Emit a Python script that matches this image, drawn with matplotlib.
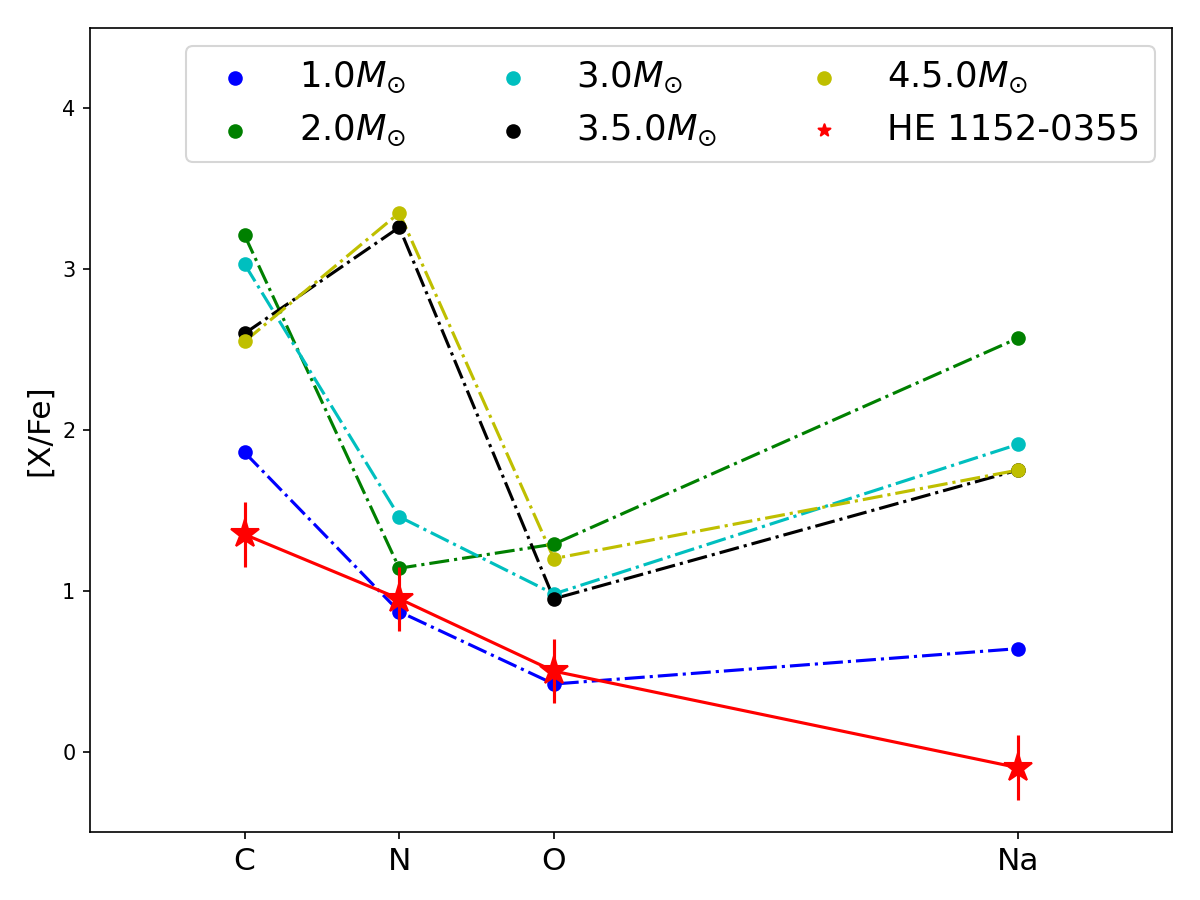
import numpy as np
import matplotlib.pyplot as plt

# atomic numbers used as x positions
elements = ['C', 'N', 'O', 'Na']
z = [6, 7, 8, 11]

m10 = [1.86, 0.87, 0.42, 0.64]
m20 = [3.21, 1.14, 1.29, 2.57]
m30 = [3.03, 1.46, 0.98, 1.91]
m35 = [2.60, 3.26, 0.95, 1.75]
m45 = [2.55, 3.35, 1.20, 1.75]

star = [1.35, 0.95, 0.50, -0.10]
star_err = [0.2, 0.2, 0.2, 0.2]

fig, ax = plt.subplots(figsize=(8, 6), dpi=150)
fig.subplots_adjust(left=0.075, right=0.977, top=0.969, bottom=0.0756)

models = [(m10, 'b', r'1.0$M_{\odot}$'),
          (m20, 'g', r'2.0$M_{\odot}$'),
          (m30, 'c', r'3.0$M_{\odot}$'),
          (m35, 'k', r'3.5.0$M_{\odot}$'),
          (m45, 'y', r'4.5.0$M_{\odot}$')]

for vals, col, lab in models:
    ax.scatter(z, vals, color=col, label=lab, zorder=3)
    ax.plot(z, vals, color=col, linestyle='-.')

ax.errorbar(z, star, yerr=star_err, color='r', marker='*', markersize=14,
            linestyle='-', zorder=4)
# small star for the legend
ax.scatter([], [], color='r', marker='*', label='HE 1152-0355')

ax.set_xlim(5, 12)
ax.set_ylim(-0.5, 4.5)
ax.set_xticks(z)
ax.set_xticklabels(elements, fontsize=15)
ax.set_yticks([0, 1, 2, 3, 4])
ax.set_ylabel('[X/Fe]', fontsize=15)
ax.legend(ncol=3, fontsize=17, loc='upper right')

plt.savefig('out.png', dpi=150)
